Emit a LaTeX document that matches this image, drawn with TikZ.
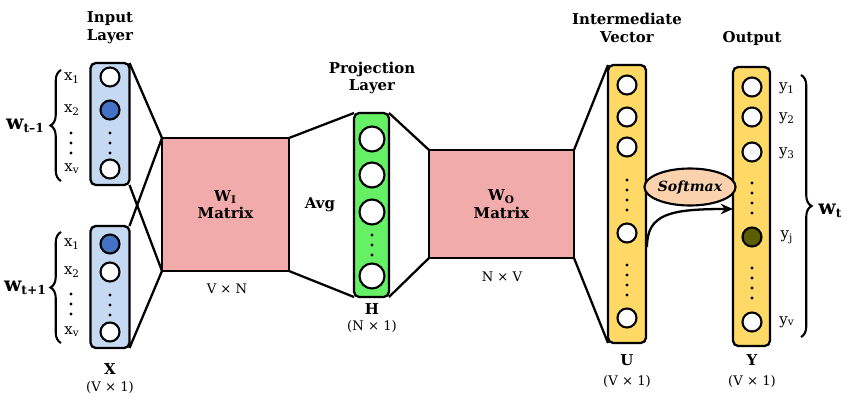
\documentclass[tikz,border=0pt]{standalone}
\usepackage{fontspec}
\setmainfont{DejaVu Serif}
\usetikzlibrary{shapes.geometric,decorations.pathreplacing,arrows.meta}
\definecolor{inblue}{HTML}{C6D9F3}
\definecolor{actblue}{HTML}{4472C4}
\definecolor{matpink}{HTML}{F2ABAB}
\definecolor{projgreen}{HTML}{66F066}
\definecolor{vecyel}{HTML}{FFD966}
\definecolor{olive}{HTML}{5C5C00}
\definecolor{peach}{HTML}{FBD2AE}
\newcommand{\wsub}[1]{\raisebox{-0.35ex}{\fontsize{7}{7}\selectfont #1}}
\begin{document}
\begin{tikzpicture}[x=0.02cm,y=-0.02cm,
  col/.style={draw, line width=1.3pt, rounded corners=3pt, inner sep=0pt, outer sep=0pt},
  mat/.style={draw, line width=1.3pt, fill=matpink, inner sep=0pt, outer sep=0pt, align=center,
     font=\bfseries\fontsize{8.5}{10}\selectfont},
  unit/.style={circle, draw, line width=1.2pt, fill=white, minimum size=19*0.02cm, inner sep=0pt},
  bigunit/.style={unit, minimum size=25*0.02cm},
  conn/.style={line width=1.3pt},
  title/.style={font=\bfseries\fontsize{8.5}{10}\selectfont, align=center},
  lab/.style={font=\fontsize{8.5}{9}\selectfont},
  dimlab/.style={font=\fontsize{7.5}{9}\selectfont, align=center},
  brc/.style={line width=1.2pt, decorate, decoration={brace, amplitude=6pt}},
  wlab/.style={font=\bfseries\fontsize{11.5}{12}\selectfont}
]
\useasboundingbox (0,0) rectangle (850,409);

% ---------- columns and matrices ----------
\node[col, fill=inblue, minimum width=39*0.02cm, minimum height=122*0.02cm] (in1) at (110,124) {};
\node[col, fill=inblue, minimum width=39*0.02cm, minimum height=122*0.02cm] (in2) at (110,287) {};
\node[mat, minimum width=127*0.02cm, minimum height=133*0.02cm] (wi) at (225.5,204.5) {W\textsubscript{I}\\Matrix};
\node[col, fill=projgreen, minimum width=35*0.02cm, minimum height=184*0.02cm] (proj) at (371.5,205) {};
\node[mat, minimum width=145*0.02cm, minimum height=108*0.02cm] (wo) at (501.5,204) {W\textsubscript{O}\\Matrix};
\node[col, fill=vecyel, minimum width=38*0.02cm, minimum height=278*0.02cm] (inter) at (627,204) {};
\node[col, fill=vecyel, minimum width=37*0.02cm, minimum height=279*0.02cm] (out) at (751.5,206.5) {};

% ---------- connectors ----------
\draw[conn] (in1.north east) -- (wi.north west);
\draw[conn] (in1.south east) -- (wi.south west);
\draw[conn] (in2.north east) -- (wi.north west);
\draw[conn] (in2.south east) -- (wi.south west);
\draw[conn] (wi.north east) -- (proj.north west);
\draw[conn] (wi.south east) -- (proj.south west);
\draw[conn] (proj.north east) -- (wo.north west);
\draw[conn] (proj.south east) -- (wo.south west);
\draw[conn] (wo.north east) -- (inter.north west);
\draw[conn] (wo.south east) -- (inter.south west);

% ---------- input units ----------
\node[unit] (a1) at (110,77) {};
\node[unit, fill=actblue] (a2) at (110,110) {};
\node[unit] (av) at (110,169) {};
\foreach \y in {133,143,153} \fill (110,\y) circle (0.9pt);
\node[unit, fill=actblue] (b1) at (110,244) {};
\node[unit] (b2) at (110,272) {};
\node[unit] (bv) at (110,332) {};
\foreach \y in {295,305,315} \fill (110,\y) circle (0.9pt);

% input labels
\node[lab] (la1) at (72,78) {x\textsubscript{1}};
\node[lab] (la2) at (72,110) {x\textsubscript{2}};
\node[lab] (lav) at (72,169) {x\textsubscript{v}};
\foreach \y in {133,143,153} \fill (71,\y) circle (0.9pt);
\node[lab] (lb1) at (72,244) {x\textsubscript{1}};
\node[lab] (lb2) at (72,272) {x\textsubscript{2}};
\node[lab] (lbv) at (72,332) {x\textsubscript{v}};
\foreach \y in {294,304,314} \fill (71,\y) circle (0.9pt);

\draw[brc] (61,181) -- (61,70);
\draw[brc] (61,343) -- (61,232);
\node[wlab] (wtm) at (25,126) {w\wsub{t–1}};
\node[wlab] (wtp) at (25,288) {w\wsub{t+1}};

% ---------- projection units ----------
\node[bigunit] (p1) at (372,139) {};
\node[bigunit] (p2) at (372,175) {};
\node[bigunit] (p3) at (372,212) {};
\node[bigunit] (pn) at (372,276) {};
\foreach \y in {235,245,255} \fill (372,\y) circle (0.9pt);

% ---------- intermediate units ----------
\node[unit] (u1) at (627,85) {};
\node[unit] (u2) at (627,117) {};
\node[unit] (u3) at (627,147) {};
\node[unit] (uj) at (627,233) {};
\node[unit] (uv) at (627,318) {};
\foreach \y in {180,190,200,210,265,275,285,295} \fill (627,\y) circle (0.9pt);

% ---------- output units ----------
\node[unit] (y1) at (752,87) {};
\node[unit] (y2) at (752,117) {};
\node[unit] (y3) at (752,152) {};
\node[unit, fill=olive] (yj) at (752,237) {};
\node[unit] (yv) at (752,322) {};
\foreach \y in {183,193,203,213,268,278,288,298} \fill (752,\y) circle (0.9pt);

\node[lab] (ly1) at (787,88) {y\textsubscript{1}};
\node[lab] (ly2) at (787,118) {y\textsubscript{2}};
\node[lab] (ly3) at (787,153) {y\textsubscript{3}};
\node[lab] (lyj) at (787,237) {y\textsubscript{j}};
\node[lab] (lyv) at (787,322) {y\textsubscript{v}};
\draw[brc] (801,75) -- (801,337);
\node[wlab] (wt) at (830,211) {w\wsub{t}};

% ---------- softmax ----------
\node[ellipse, draw, line width=1.2pt, fill=peach, minimum width=68*0.02cm, minimum height=37*0.02cm,
      inner sep=0pt, font=\bfseries\itshape\fontsize{8}{9}\selectfont] (sm) at (690,187) {Softmax};
\coordinate (sm0) at (647,247);
\coordinate (sm1) at (733,209);
\draw[line width=1.3pt, -{Stealth[length=7pt,width=6pt]}] (sm0) .. controls (647,214) and (670,209) .. (sm1);

% ---------- titles ----------
\node[title] (tin) at (110,28) {Input\\Layer};
\node[title] (tproj) at (372,78) {Projection\\Layer};
\node[title] (tint) at (627,28) {Intermediate\\Vector};
\node[title] (tout) at (752,39) {Output};
\node[title] (avg) at (320,205) {Avg};

% ---------- bottom labels ----------
\node[dimlab] (dwi) at (227,289) {V × N};
\node[dimlab] (dwo) at (502,277) {N × V};
\node[title] (lx) at (110,369) {X};
\node[dimlab] (dx) at (110,388) {(V × 1)};
\node[title] (lh) at (372,309) {H};
\node[dimlab] (dh) at (372,327) {(N × 1)};
\node[title] (lu) at (627,360) {U};
\node[dimlab] (du) at (627,382) {(V × 1)};
\node[title] (ly) at (752,360) {Y};
\node[dimlab] (dy) at (752,382) {(V × 1)};
\end{tikzpicture}
\end{document}
